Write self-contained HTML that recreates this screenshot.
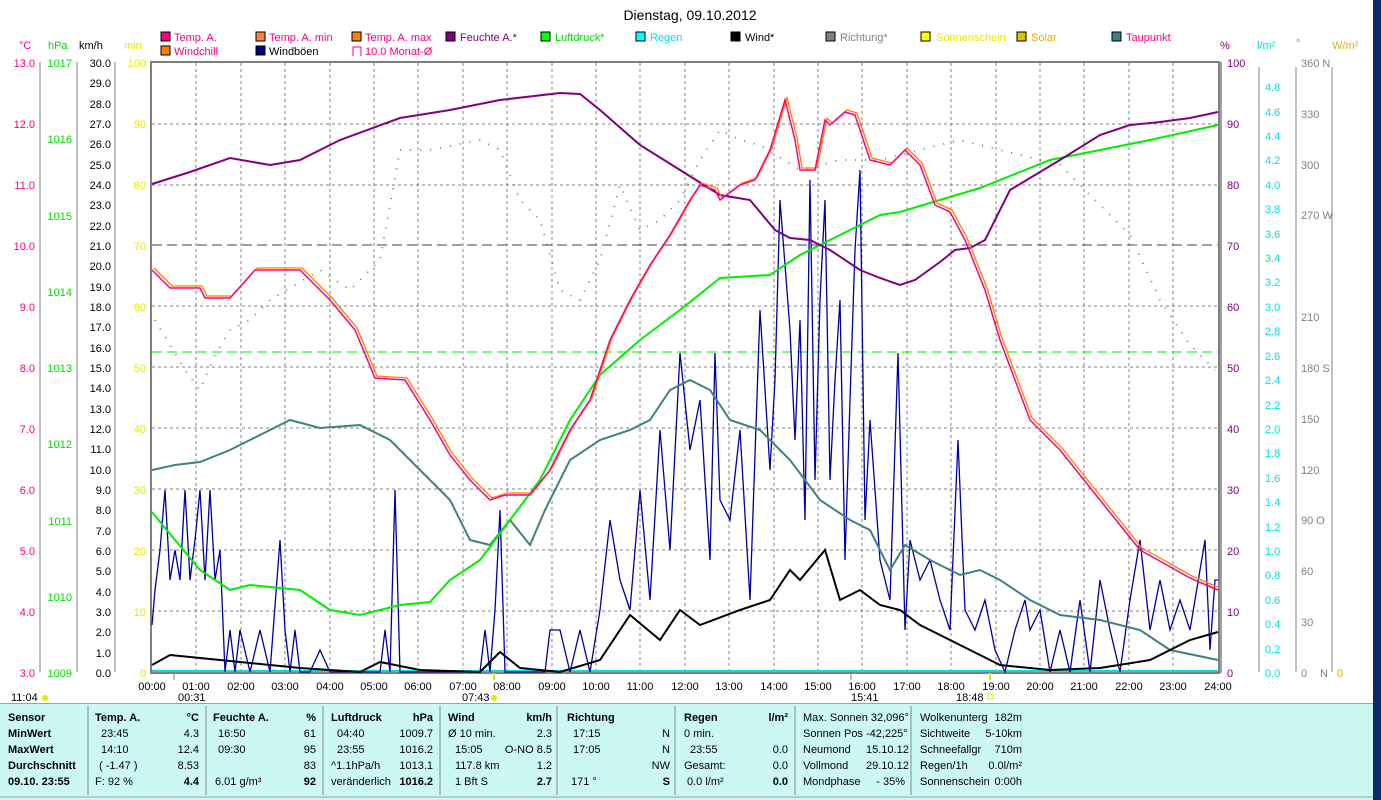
<!DOCTYPE html>
<html><head><meta charset="utf-8"><style>
body{margin:0;width:1381px;height:800px;overflow:hidden;background:#fff;font-family:"Liberation Sans",sans-serif;}
svg{position:absolute;left:0;top:0}
svg text{font-family:"Liberation Sans",sans-serif;font-size:11px}
</style></head><body>
<svg width="1381" height="800" viewBox="0 0 1381 800">
<rect x="1373" y="0" width="8" height="800" fill="#0a2a6a"/>
<text x="690" y="20" text-anchor="middle" font-size="14" style="font-size:14px">Dienstag, 09.10.2012</text>
<!-- legend -->
<g>
<rect x="161" y="32" width="9" height="9" fill="#ff0080" stroke="#000"/><text x="174" y="41" fill="#ff0080">Temp. A.</text>
<rect x="256" y="32" width="9" height="9" fill="#ff8040" stroke="#000"/><text x="269" y="41" fill="#ff0080">Temp. A. min</text>
<rect x="352" y="32" width="9" height="9" fill="#ff8000" stroke="#000"/><text x="365" y="41" fill="#ff0080">Temp. A. max</text>
<rect x="446" y="32" width="9" height="9" fill="#800080" stroke="#000"/><text x="460" y="41" fill="#800080">Feuchte A.*</text>
<rect x="541" y="32" width="9" height="9" fill="#00ff00" stroke="#000"/><text x="555" y="41" fill="#00dd00">Luftdruck*</text>
<rect x="636" y="32" width="9" height="9" fill="#00ffff" stroke="#000"/><text x="650" y="41" fill="#00e0e0">Regen</text>
<rect x="731" y="32" width="9" height="9" fill="#000" stroke="#000"/><text x="745" y="41">Wind*</text>
<rect x="826" y="32" width="9" height="9" fill="#808080" stroke="#000"/><text x="840" y="41" fill="#808080">Richtung*</text>
<rect x="921" y="32" width="9" height="9" fill="#ffff00" stroke="#000"/><text x="936" y="41" fill="#e8e800">Sonnenschein</text>
<rect x="1017" y="32" width="9" height="9" fill="#e0c000" stroke="#000"/><text x="1031" y="41" fill="#e0b000">Solar</text>
<rect x="1112" y="32" width="9" height="9" fill="#408080" stroke="#000"/><text x="1126" y="41" fill="#ff0080">Taupunkt</text>
<rect x="161" y="46" width="9" height="9" fill="#ff8000" stroke="#000"/><text x="174" y="55" fill="#ff0080">Windchill</text>
<rect x="256" y="46" width="9" height="9" fill="#000080" stroke="#000"/><text x="269" y="55">Windböen</text>
<path d="M353 56V47h8v9" fill="none" stroke="#ff0080"/><text x="365" y="55" fill="#ff0080">10.0 Monat-Ø</text>
</g>
<!-- axis headers -->
<text x="19" y="49" fill="#ff0080">°C</text><text x="48" y="49" fill="#00dd00">hPa</text><text x="79" y="49">km/h</text><text x="124" y="49" fill="#e8e800">min</text>
<text x="1220" y="49" fill="#800080">%</text><text x="1257" y="49" fill="#00e0e0">l/m²</text><text x="1296" y="47" fill="#808080">°</text><text x="1332" y="49" fill="#e0b000">W/m²</text>
<!-- grid -->
<g stroke="#808080" stroke-dasharray="3,3" stroke-width="1">
<path d="M196 63V672M241 63V672M285 63V672M330 63V672M374 63V672M418 63V672M463 63V672M507 63V672M552 63V672M596 63V672M640 63V672M685 63V672M729 63V672M774 63V672M818 63V672M862 63V672M907 63V672M951 63V672M996 63V672M1040 63V672M1084 63V672M1129 63V672M1173 63V672"/>
<path d="M152 124H1218M152 185H1218M152 306H1218M152 428H1218M152 489H1218M152 550H1218M152 611H1218"/>
</g>
<path d="M152 245H1218" stroke="#404040" stroke-dasharray="10,5"/>
<path d="M152 352H1218" stroke="#00ee00" stroke-dasharray="10,5"/>
<path d="M152 367H1218" stroke="#808080" stroke-dasharray="3,3"/>
<rect x="151" y="62" width="1068" height="611" fill="none" stroke="#808080" stroke-width="2"/>
<path d="M1221 62V673" stroke="#808080" stroke-width="1.5"/>
<path d="M152 671H1218" stroke="#00e0e0" stroke-width="2"/>
<!-- left axes -->
<g stroke="#808080"><path d="M40 62V672M77 62V672M115 62V672"/></g>
<g font-size="11" text-anchor="end">
<g fill="#ff0080"><text x="35" y="67">13.0</text><text x="35" y="128">12.0</text><text x="35" y="189">11.0</text><text x="35" y="250">10.0</text><text x="35" y="311">9.0</text><text x="35" y="372">8.0</text><text x="35" y="433">7.0</text><text x="35" y="494">6.0</text><text x="35" y="555">5.0</text><text x="35" y="616">4.0</text><text x="35" y="677">3.0</text></g>
<g fill="#00dd00"><text x="72" y="67">1017</text><text x="72" y="143">1016</text><text x="72" y="220">1015</text><text x="72" y="296">1014</text><text x="72" y="372">1013</text><text x="72" y="448">1012</text><text x="72" y="525">1011</text><text x="72" y="601">1010</text><text x="72" y="677">1009</text></g>
<g fill="#000"><text x="111" y="67">30.0</text><text x="111" y="87">29.0</text><text x="111" y="108">28.0</text><text x="111" y="128">27.0</text><text x="111" y="148">26.0</text><text x="111" y="169">25.0</text><text x="111" y="189">24.0</text><text x="111" y="209">23.0</text><text x="111" y="230">22.0</text><text x="111" y="250">21.0</text><text x="111" y="270">20.0</text><text x="111" y="291">19.0</text><text x="111" y="311">18.0</text><text x="111" y="331">17.0</text><text x="111" y="352">16.0</text><text x="111" y="372">15.0</text><text x="111" y="392">14.0</text><text x="111" y="413">13.0</text><text x="111" y="433">12.0</text><text x="111" y="453">11.0</text><text x="111" y="474">10.0</text><text x="111" y="494">9.0</text><text x="111" y="514">8.0</text><text x="111" y="535">7.0</text><text x="111" y="555">6.0</text><text x="111" y="575">5.0</text><text x="111" y="596">4.0</text><text x="111" y="616">3.0</text><text x="111" y="636">2.0</text><text x="111" y="657">1.0</text><text x="111" y="677">0.0</text></g>
<g fill="#e8e800"><text x="146" y="67">100</text><text x="146" y="128">90</text><text x="146" y="189">80</text><text x="146" y="250">70</text><text x="146" y="311">60</text><text x="146" y="372">50</text><text x="146" y="433">40</text><text x="146" y="494">30</text><text x="146" y="555">20</text><text x="146" y="616">10</text><text x="146" y="677">0</text></g>
</g>
<!-- right axes -->
<g stroke="#808080"><path d="M1259 67V672M1296 67V672M1332 67V672"/></g>
<g fill="#800080"><text x="1227" y="67">100</text><text x="1227" y="128">90</text><text x="1227" y="189">80</text><text x="1227" y="250">70</text><text x="1227" y="311">60</text><text x="1227" y="372">50</text><text x="1227" y="433">40</text><text x="1227" y="494">30</text><text x="1227" y="555">20</text><text x="1227" y="616">10</text><text x="1227" y="677">0</text></g>
<g fill="#00e0e0"><text x="1265" y="91">4.8</text><text x="1265" y="116">4.6</text><text x="1265" y="140">4.4</text><text x="1265" y="164">4.2</text><text x="1265" y="189">4.0</text><text x="1265" y="213">3.8</text><text x="1265" y="238">3.6</text><text x="1265" y="262">3.4</text><text x="1265" y="286">3.2</text><text x="1265" y="311">3.0</text><text x="1265" y="335">2.8</text><text x="1265" y="360">2.6</text><text x="1265" y="384">2.4</text><text x="1265" y="409">2.2</text><text x="1265" y="433">2.0</text><text x="1265" y="457">1.8</text><text x="1265" y="482">1.6</text><text x="1265" y="506">1.4</text><text x="1265" y="531">1.2</text><text x="1265" y="555">1.0</text><text x="1265" y="579">0.8</text><text x="1265" y="604">0.6</text><text x="1265" y="628">0.4</text><text x="1265" y="653">0.2</text><text x="1265" y="677">0.0</text></g>
<g fill="#808080"><text x="1301" y="67">360 N</text><text x="1301" y="118">330</text><text x="1301" y="169">300</text><text x="1301" y="219">270 W</text><text x="1301" y="321">210</text><text x="1301" y="372">180 S</text><text x="1301" y="423">150</text><text x="1301" y="474">120</text><text x="1301" y="524">90 O</text><text x="1301" y="575">60</text><text x="1301" y="626">30</text><text x="1301" y="677">0</text><text x="1320" y="677">N</text></g>
<text x="1337" y="677" fill="#e0b000">0</text>
<!-- series -->
<polyline fill="none" stroke="#808080" stroke-width="2" stroke-dasharray="1,9" points="155,320 170,345 185,370 200,390 215,355 230,330 250,320 270,300 320,270 350,290 380,260 400,150 430,150 480,140 500,150 520,200 540,220 560,290 580,300 600,260 620,185 640,230 660,220 680,200 700,160 720,130 740,140 760,145 800,170 840,160 880,160 920,150 960,140 1000,150 1060,165 1100,205 1130,235 1160,300 1190,345 1215,370"/>
<polyline fill="none" stroke="#0000a0" stroke-width="1.3" points="152,625 155,590 160,550 165,490 170,580 175,550 180,580 185,490 190,580 195,540 200,490 205,580 210,490 215,580 220,550 225,672 230,630 235,672 240,630 250,672 260,630 270,672 280,540 285,630 290,672 295,630 300,672 310,672 320,650 330,672 380,672 385,630 390,672 395,490 400,672 420,672 480,672 485,630 490,672 495,610 500,510 505,672 545,672 550,630 560,630 570,672 580,630 590,672 600,610 610,520 620,580 630,610 640,490 650,600 660,430 670,550 680,353 690,450 700,400 710,560 715,353 720,500 730,520 740,430 750,600 760,310 770,470 775,380 780,200 790,330 795,440 800,320 805,520 810,180 815,480 820,300 825,200 830,480 835,380 840,300 845,560 850,400 855,250 860,170 865,520 870,420 880,560 890,600 898,353 905,630 910,540 920,580 930,560 940,600 950,630 958,440 965,610 975,630 985,600 995,650 1005,672 1015,630 1025,600 1030,630 1040,610 1050,672 1060,630 1070,672 1080,600 1090,672 1100,580 1110,630 1120,672 1130,600 1140,540 1150,630 1160,580 1170,630 1180,600 1190,630 1205,540 1210,650 1215,580 1218,580"/>
<polyline fill="none" stroke="#408080" stroke-width="2" points="152,470 175,465 200,462 230,450 260,435 290,420 320,428 360,425 390,440 420,470 450,500 470,540 490,545 510,520 530,545 545,510 570,460 600,440 630,430 650,420 670,390 690,380 710,390 730,420 760,430 790,460 820,500 850,520 870,530 890,570 905,545 930,560 960,575 980,570 1000,580 1030,600 1060,615 1100,620 1140,630 1170,650 1218,660"/>
<polyline fill="none" stroke="#00ee00" stroke-width="2" points="152,512 175,540 200,570 230,590 250,585 300,590 330,610 360,615 400,605 430,602 450,580 480,560 510,520 540,480 570,420 600,375 640,340 680,310 720,278 770,275 800,255 850,230 880,215 900,212 940,200 980,188 1000,180 1020,172 1050,160 1100,150 1150,140 1218,125"/>
<polyline fill="none" stroke="#800080" stroke-width="2" points="152,184 190,172 230,158 270,165 300,160 340,140 400,118 450,110 500,100 560,93 580,94 600,110 640,145 680,170 720,195 750,200 775,230 790,238 810,240 830,250 860,270 880,278 900,285 915,280 940,262 955,250 970,248 985,240 1010,190 1030,178 1060,160 1100,135 1130,125 1160,122 1190,118 1218,112"/>
<polyline fill="none" stroke="#ff8000" stroke-width="1.3" transform="translate(2,-2)" points="152,270 170,288 200,288 205,298 230,298 255,270 300,270 330,300 355,330 375,378 405,380 430,420 450,455 470,480 490,500 505,495 530,495 550,470 570,430 590,400 610,340 630,300 650,265 670,235 690,200 700,185 715,190 720,200 740,185 755,180 770,150 785,100 795,140 800,170 815,170 825,120 830,125 845,112 855,115 870,160 890,165 905,150 920,165 935,205 950,212 965,240 985,290 1000,340 1030,420 1060,450 1100,500 1140,550 1190,578 1218,590"/>
<polyline fill="none" stroke="#ff0080" stroke-width="1.5" points="152,270 170,288 200,288 205,298 230,298 255,270 300,270 330,300 355,330 375,378 405,380 430,420 450,455 470,480 490,500 505,495 530,495 550,470 570,430 590,400 610,340 630,300 650,265 670,235 690,200 700,185 715,190 720,200 740,185 755,180 770,150 785,100 795,140 800,170 815,170 825,120 830,125 845,112 855,115 870,160 890,165 905,150 920,165 935,205 950,212 965,240 985,290 1000,340 1030,420 1060,450 1100,500 1140,550 1190,578 1218,590"/>
<polyline fill="none" stroke="#000" stroke-width="2" points="152,665 170,655 200,658 240,662 300,668 360,672 380,662 420,670 480,672 500,652 520,668 560,672 600,660 630,615 660,640 680,610 700,625 740,610 770,600 790,570 800,580 825,550 840,600 860,590 880,605 900,610 920,625 950,640 980,655 1000,665 1050,670 1100,668 1150,660 1190,640 1218,632"/>
<!-- time axis -->
<g stroke="#808080"><path d="M174 673V680M851 673V680"/></g>
<path d="M494 673V680M990 673V680" stroke="#e8e800" stroke-width="2"/>
<g text-anchor="middle"><text x="152" y="690">00:00</text><text x="196" y="690">01:00</text><text x="241" y="690">02:00</text><text x="285" y="690">03:00</text><text x="330" y="690">04:00</text><text x="374" y="690">05:00</text><text x="418" y="690">06:00</text><text x="463" y="690">07:00</text><text x="507" y="690">08:00</text><text x="552" y="690">09:00</text><text x="596" y="690">10:00</text><text x="640" y="690">11:00</text><text x="685" y="690">12:00</text><text x="729" y="690">13:00</text><text x="774" y="690">14:00</text><text x="818" y="690">15:00</text><text x="862" y="690">16:00</text><text x="907" y="690">17:00</text><text x="951" y="690">18:00</text><text x="996" y="690">19:00</text><text x="1040" y="690">20:00</text><text x="1084" y="690">21:00</text><text x="1129" y="690">22:00</text><text x="1173" y="690">23:00</text><text x="1218" y="690">24:00</text></g>
<text x="11" y="701">11:04</text><circle cx="45" cy="698" r="3" fill="#e8e800"/>
<text x="178" y="701">00:31</text><text x="462" y="701">07:43</text><circle cx="494" cy="698" r="3" fill="#e8e800"/>
<text x="851" y="701">15:41</text><text x="956" y="701">18:48</text><rect x="988" y="694" width="5" height="5" fill="none" stroke="#e8e800"/>
<!-- table -->
<rect x="0" y="703" width="1373" height="97" fill="#ccf8f4"/>
<path d="M0 703.5H1373" stroke="#a0a0a0"/>
<g stroke="#888"><path d="M88 706V795M206 706V795M323 706V795M440 706V795M557 706V795M675 706V795M795 706V795M911 706V795"/></g>
<g font-weight="bold"><text x="8" y="721">Sensor</text><text x="8" y="737">MinWert</text><text x="8" y="753">MaxWert</text><text x="8" y="769">Durchschnitt</text><text x="8" y="785">09.10. 23:55</text>
<text x="95" y="721">Temp. A.</text><text x="213" y="721">Feuchte A.</text><text x="331" y="721">Luftdruck</text><text x="448" y="721">Wind</text><text x="567" y="721">Richtung</text><text x="684" y="721">Regen</text></g>
<g text-anchor="end"><text x="199" y="721" font-weight="bold">°C</text><text x="316" y="721" font-weight="bold">%</text><text x="433" y="721" font-weight="bold">hPa</text><text x="552" y="721" font-weight="bold">km/h</text><text x="788" y="721" font-weight="bold">l/m²</text>
<text x="199" y="737">4.3</text><text x="199" y="753">12.4</text><text x="199" y="769">8.53</text><text x="199" y="785" font-weight="bold">4.4</text>
<text x="316" y="737">61</text><text x="316" y="753">95</text><text x="316" y="769">83</text><text x="316" y="785" font-weight="bold">92</text>
<text x="433" y="737">1009.7</text><text x="433" y="753">1016.2</text><text x="433" y="769">1013.1</text><text x="433" y="785" font-weight="bold">1016.2</text>
<text x="552" y="737">2.3</text><text x="552" y="753">O-NO 8.5</text><text x="552" y="769">1.2</text><text x="552" y="785" font-weight="bold">2.7</text>
<text x="670" y="737">N</text><text x="670" y="753">N</text><text x="670" y="769">NW</text><text x="670" y="785" font-weight="bold">S</text>
<text x="788" y="753">0.0</text><text x="788" y="769">0.0</text><text x="788" y="785" font-weight="bold">0.0</text></g>
<text x="101" y="737">23:45</text><text x="101" y="753">14:10</text><text x="99" y="769">( -1.47 )</text><text x="95" y="785">F: 92 %</text>
<text x="218" y="737">16:50</text><text x="218" y="753">09:30</text><text x="215" y="785">6.01 g/m³</text>
<text x="337" y="737">04:40</text><text x="337" y="753">23:55</text><text x="331" y="769">^1.1hPa/h</text><text x="331" y="785">veränderlich</text>
<text x="448" y="737">Ø 10 min.</text><text x="455" y="753">15:05</text><text x="455" y="769">117.8 km</text><text x="455" y="785">1 Bft S</text>
<text x="573" y="737">17:15</text><text x="573" y="753">17:05</text><text x="571" y="785">171 °</text>
<text x="684" y="737">0 min.</text><text x="690" y="753">23:55</text><text x="684" y="769">Gesamt:</text><text x="687" y="785">0.0 l/m²</text>
<text x="803" y="721">Max. Sonnen 32,096°</text><text x="803" y="737">Sonnen Pos  -42,225°</text><text x="803" y="753">Neumond</text><text x="866" y="753">15.10.12</text><text x="803" y="769">Vollmond</text><text x="866" y="769">29.10.12</text><text x="803" y="785">Mondphase</text><text x="905" y="785" text-anchor="end">- 35%</text>
<text x="920" y="721">Wolkenunterg</text><text x="1022" y="721" text-anchor="end">182m</text>
<text x="920" y="737">Sichtweite</text><text x="1022" y="737" text-anchor="end">5-10km</text>
<text x="920" y="753">Schneefallgr</text><text x="1022" y="753" text-anchor="end">710m</text>
<text x="920" y="769">Regen/1h</text><text x="1022" y="769" text-anchor="end">0.0l/m²</text>
<text x="920" y="785">Sonnenschein</text><text x="1022" y="785" text-anchor="end">0:00h</text>
<path d="M0 797H1373" stroke="#a0a0a0"/>
</svg>
</body></html>
